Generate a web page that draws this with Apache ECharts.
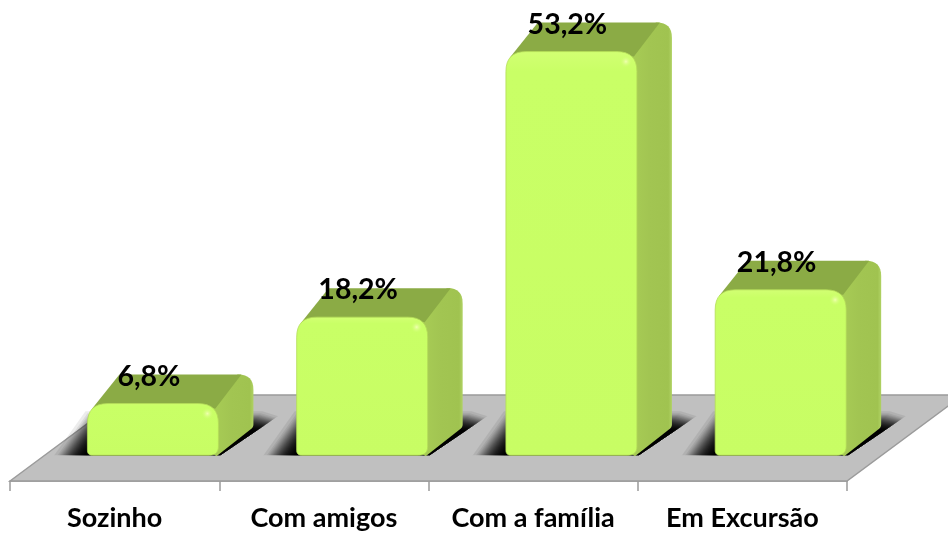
<!DOCTYPE html>
<html><head><meta charset="utf-8">
<style>html,body{margin:0;padding:0;background:#fff}#c{width:948px;height:535px}</style>
<script src="https://cdn.jsdelivr.net/npm/echarts@6/dist/echarts.min.js"></script>
</head><body><div id="c"></div>
<script>
const categories = ['Sozinho', 'Com amigos', 'Com a família', 'Em Excursão'];
const values = [6.8, 18.2, 53.2, 21.8];
const valueLabels = ['6,8%', '18,2%', '53,2%', '21,8%'];

function rounded(pts) {
  const out = [], n = pts.length;
  for (let i = 0; i < n; i++) {
    const p = pts[i], a = pts[(i + n - 1) % n], b = pts[(i + 1) % n], r = p[2] || 0;
    if (!r) { out.push([p[0], p[1]]); continue; }
    const la = Math.hypot(a[0] - p[0], a[1] - p[1]), lb = Math.hypot(b[0] - p[0], b[1] - p[1]);
    const s = [p[0] + (a[0] - p[0]) * r / la, p[1] + (a[1] - p[1]) * r / la];
    const e = [p[0] + (b[0] - p[0]) * r / lb, p[1] + (b[1] - p[1]) * r / lb];
    for (let k = 0; k <= 8; k++) {
      const t = k / 8, u = 1 - t;
      out.push([u * u * s[0] + 2 * u * t * p[0] + t * t * e[0], u * u * s[1] + 2 * u * t * p[1] + t * t * e[1]]);
    }
  }
  return out;
}
const grad = (x, y, x2, y2, stops) => ({ type: 'linear', x, y, x2, y2,
  colorStops: stops.map(s => ({ offset: s[0], color: s[1] })) });
const mix = (a, b, t) => a + (b - a) * t;

function renderFloor(params, api) {
  const band = api.size([1, 0])[0];
  const l = api.coord([0, 0])[0] - band / 2, r = api.coord([3, 0])[0] + band / 2;
  const front = params.coordSys.y + params.coordSys.height;
  return { type: 'polygon', silent: true,
    shape: { points: [[l, front], [l + 116, front - 86], [r + 116, front - 86], [r, front]] },
    style: { fill: '#c0c0c0', stroke: '#9b9b9b', lineWidth: 1.5 } };
}
function renderShadow(params, api) {
  const band = api.size([1, 0])[0], p = api.coord([api.value(0), 0]);
  const w = band * 0.626, x0 = p[0] + band * 0.183 - w / 2, x1 = x0 + w, base = p[1];
  const layers = [];
  const clip = [[x0 - 80, base], [x1 + 2, base], [x1 + 120, base - 80], [x0 - 80, base - 80]];
  for (let k = 0; k < 44; k++) {
    const t = Math.pow(k / 43, 0.6);
    layers.push({ type: 'polygon', silent: true,
      shape: { points: [
        [mix(x0 - 36, x0 - 4, t), base + 4],
        [mix(x1 + 24, x1 + 6, t), base + 4],
        [mix(x1 + 76, x1 + 44, t), mix(base - 34, base - 24, t)],
        [mix(x1 + 44, x1 + 28, t), mix(base - 44, base - 24, t)],
        [mix(x0 - 2, x0 + 18, t), mix(base - 44, base - 24, t)]
      ] },
      style: { fill: 'rgba(0,0,0,0.075)' },
      clipPath: { type: 'polygon', shape: { points: clip } } });
  }
  return { type: 'group', children: layers };
}
function renderBar(params, api) {
  const i = api.value(0), band = api.size([1, 0])[0];
  const p = api.coord([i, api.value(1)]), b = api.coord([i, 0]);
  const w = band * 0.626, x0 = p[0] + band * 0.183 - w / 2, x1 = x0 + w, top = p[1], base = b[1];
  const dx = 35, dy = -29;
  return { type: 'group', children: [
    { type: 'polygon', silent: true,
      shape: { points: rounded([[x1 - 10, top + 8], [x1 + dx - 16, top + dy], [x1 + dx, top + dy, 15], [x1 + dx, base + dy + 1, 3], [x1 - 2, base + 1], [x1 - 10, base - 5]]) },
      style: { fill: grad(0, 0, 1, 0, [[0, '#a9ce56'], [0.5, '#a2c552'], [0.92, '#a0c350'], [1, '#b0d264']]) } },
    { type: 'polygon', silent: true,
      shape: { points: rounded([[x0 + 4, top + 6], [x0 + dx - 3, top + dy], [x1 + dx - 12, top + dy], [x1 - 3, top + 5]]) },
      style: { fill: '#8bab45' } },
    { type: 'polygon', silent: true,
      shape: { points: rounded([[x0, top, 20], [x1, top, 20], [x1, base, 9], [x0, base, 5]]) },
      style: { fill: grad(0, 0, 0, 1, [[0, '#d2ff73'], [0.05, '#c9ff66'], [1, '#c8fd64']]), stroke: '#b4dc58', lineWidth: 0.8 } },
    { type: 'circle', silent: true, shape: { cx: x1 - 11, cy: top + 10, r: 6 },
      style: { fill: { type: 'radial', x: 0.5, y: 0.5, r: 0.5, colorStops: [{ offset: 0, color: '#f0ffb0' }, { offset: 1, color: 'rgba(205,255,110,0)' }] } } },
    { type: 'text', silent: true, x: x0 + w / 2 - 4, y: top - 27,
      style: { text: valueLabels[i], font: 'bold 28.5px Lato, "Open Sans", sans-serif', fill: '#000', align: 'center', verticalAlign: 'middle' } }
  ] };
}
const rows = values.map((v, i) => [i, v]);
const chart = echarts.init(document.getElementById('c'), null, { renderer: 'canvas' });
chart.setOption({
  animation: false,
  backgroundColor: '#fff',
  grid: { left: 10, right: 101, top: 0, bottom: 54, containLabel: false },
  xAxis: { type: 'category', data: categories, boundaryGap: true,
    axisLine: { show: true, onZero: false, lineStyle: { color: '#9b9b9b', width: 1.5 } },
    axisTick: { show: true, length: 10, alignWithLabel: false, lineStyle: { color: '#9b9b9b', width: 1.5 } },
    axisLabel: { margin: 24, color: '#000', fontFamily: 'Lato', fontWeight: 'bold', fontSize: 27, interval: 0 } },
  yAxis: { type: 'value', min: -3.4, max: 60, show: false, splitLine: { show: false } },
  series: [
    { type: 'custom', data: [[0, 0]], renderItem: renderFloor, z: 1, clip: false, silent: true },
    { type: 'custom', data: rows, renderItem: renderShadow, z: 2, clip: false, silent: true },
    { type: 'custom', data: rows, renderItem: renderBar, z: 3, clip: false, silent: true }
  ]
});
</script></body></html>
